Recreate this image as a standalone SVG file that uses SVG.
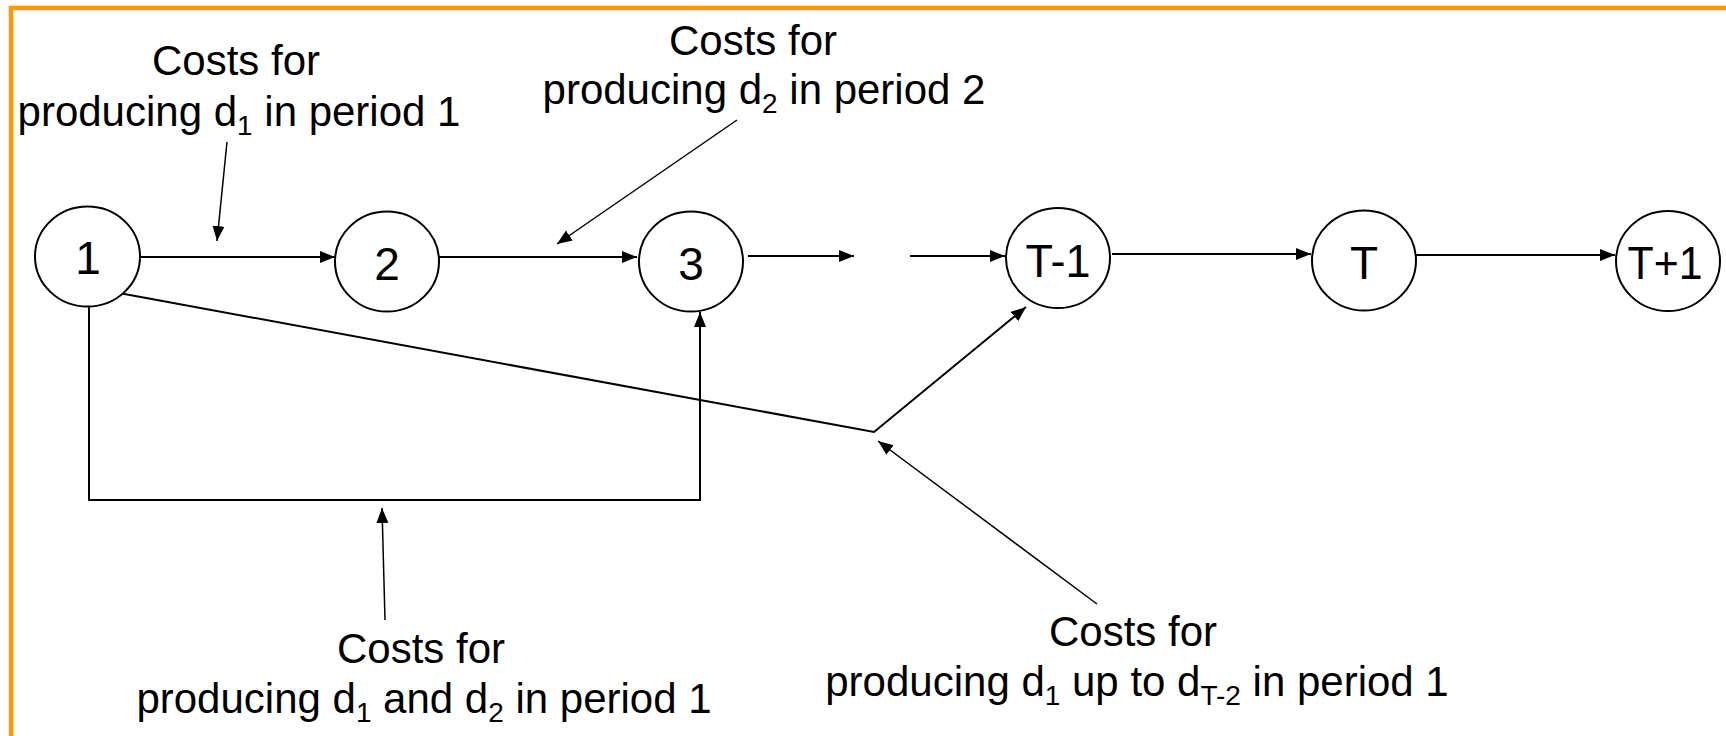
<svg xmlns="http://www.w3.org/2000/svg" width="1726" height="736" viewBox="0 0 1726 736">
<defs>
<style>
.lbl{font-family:"Liberation Sans",Arial,sans-serif;font-size:42px;fill:#000;text-anchor:middle}
.nl{font-size:46px}
.sub{font-size:28px}
.node ellipse{fill:#fff;stroke:#000;stroke-width:2}
.edge{fill:none;stroke:#000;stroke-width:2}
</style>
<marker id="ah" markerUnits="userSpaceOnUse" markerWidth="16" markerHeight="14" refX="15" refY="6" orient="auto">
<path d="M0,0 L15,6 L0,12 z" fill="#000"/>
</marker>
</defs>
<rect x="0" y="0" width="1726" height="736" fill="#fff"/>
<path d="M11,736 L11,8 L1726,8" fill="none" stroke="#FF9900" stroke-width="4.5"/>
<g id="connectors">
<path class="edge" d="M140,257 L335,257" marker-end="url(#ah)"/>
<path class="edge" d="M439,257 L637,257" marker-end="url(#ah)"/>
<path class="edge" d="M748,256 L854,256" marker-end="url(#ah)"/>
<path class="edge" d="M910,256 L1005,256" marker-end="url(#ah)"/>
<path class="edge" d="M1112,254 L1311,254" marker-end="url(#ah)"/>
<path class="edge" d="M1416,255 L1615,255" marker-end="url(#ah)"/>
<path class="edge" d="M89,303 L89,500 L700,500 L700,312" marker-end="url(#ah)"/>
<path class="edge" d="M119,293 L874,432 L1026,307" marker-end="url(#ah)"/>
<path class="edge" style="stroke-width:1.5" d="M227,142 L217,241" marker-end="url(#ah)"/>
<path class="edge" style="stroke-width:1.5" d="M737,120 L557,244" marker-end="url(#ah)"/>
<path class="edge" style="stroke-width:1.5" d="M385,620 L382,508" marker-end="url(#ah)"/>
<path class="edge" style="stroke-width:1.5" d="M1097,604 L878,441" marker-end="url(#ah)"/>
</g>
<g id="n1" class="node"><ellipse cx="87.5" cy="256.5" rx="52.5" ry="50"/><text class="lbl nl" x="88" y="274">1</text></g>
<g id="n2" class="node"><ellipse cx="387" cy="261.5" rx="52" ry="50"/><text class="lbl nl" x="387" y="280">2</text></g>
<g id="n3" class="node"><ellipse cx="691" cy="261.5" rx="52" ry="50"/><text class="lbl nl" x="691" y="280">3</text></g>
<g id="nT-1" class="node"><ellipse cx="1058" cy="258" rx="52" ry="50"/><text class="lbl nl" x="1058" y="277" textLength="65" lengthAdjust="spacingAndGlyphs">T-1</text></g>
<g id="nT" class="node"><ellipse cx="1364" cy="260.5" rx="52" ry="50"/><text class="lbl nl" x="1364" y="279">T</text></g>
<g id="nT+1" class="node"><ellipse cx="1668" cy="261" rx="52" ry="50"/><text class="lbl nl" x="1665" y="279" textLength="75" lengthAdjust="spacingAndGlyphs">T+1</text></g>
<g id="label1">
<text class="lbl" x="236" y="75">Costs for</text>
<text class="lbl" x="239" y="126">producing d<tspan class="sub" dy="9">1</tspan><tspan dy="-9"> in period 1</tspan></text>
</g>
<g id="label2">
<text class="lbl" x="753" y="55">Costs for</text>
<text class="lbl" x="764" y="104">producing d<tspan class="sub" dy="9">2</tspan><tspan dy="-9"> in period 2</tspan></text>
</g>
<g id="label3">
<text class="lbl" x="421" y="663">Costs for</text>
<text class="lbl" x="424" y="713">producing d<tspan class="sub" dy="9">1</tspan><tspan dy="-9"> and d</tspan><tspan class="sub" dy="9">2</tspan><tspan dy="-9"> in period 1</tspan></text>
</g>
<g id="label4">
<text class="lbl" x="1133" y="646">Costs for</text>
<text class="lbl" x="1137" y="696">producing d<tspan class="sub" dy="9">1</tspan><tspan dy="-9"> up to d</tspan><tspan class="sub" dy="9">T-2</tspan><tspan dy="-9"> in period 1</tspan></text>
</g>
</svg>
